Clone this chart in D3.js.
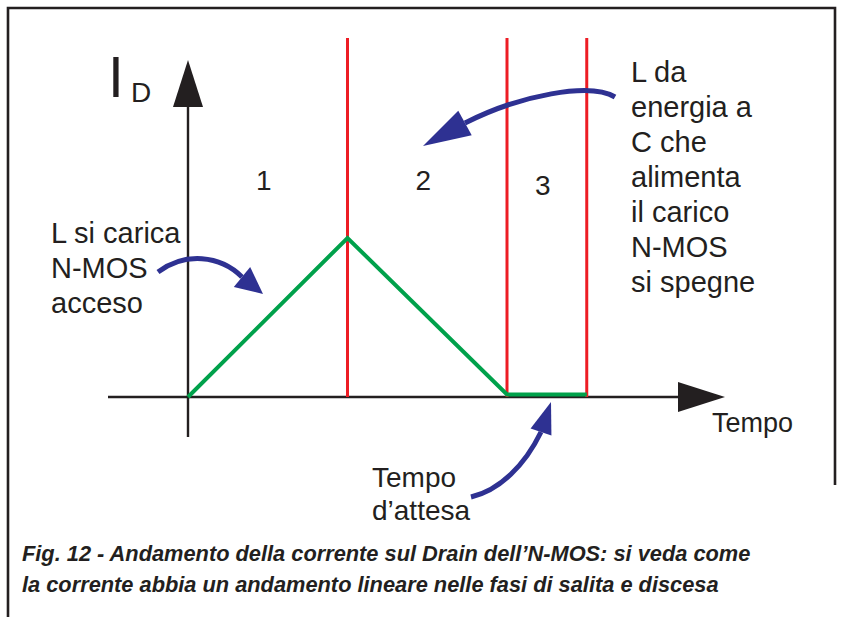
<!DOCTYPE html>
<html><head><meta charset="utf-8">
<script src="https://cdn.jsdelivr.net/npm/d3@7"></script>
<style>html,body{margin:0;padding:0;background:#fff;}svg{display:block;}</style>
</head><body>
<script>
// ---- data ----
const timePoints = [0, 1, 2, 2.5];          // time (phase units)
const drainCurrent = [0, 1, 0, 0];           // I_D (normalised)
const phaseBoundaries = [1, 2, 2.5];
const phaseLabels = ["1", "2", "3"];
const axisLabelY = ["I", "D"];
const axisLabelX = "Tempo";
const noteLeft = ["L si carica", "N-MOS", "acceso"];
const noteRight = ["L da", "energia a", "C che", "alimenta", "il carico", "N-MOS", "si spegne"];
const noteBottom = ["Tempo", "d\u2019attesa"];
const caption = ["Fig. 12 - Andamento della corrente sul Drain dell\u2019N-MOS: si veda come",
                 "la corrente abbia un andamento lineare nelle fasi di salita e discesa"];

const W = 843, H = 617;
const svg = d3.select("body").append("svg").attr("width", W).attr("height", H);
const ink = "#231f20", red = "#ed1c24", green = "#00a14b", blue = "#2e3192";
const font = "'Liberation Sans', Arial, Helvetica, sans-serif";

// scales: origin at (188,397), 1 unit ≈ 159.5px
const x = d3.scaleLinear().domain([0, 1]).range([188, 347.5]);
const y = d3.scaleLinear().domain([0, 1]).range([397, 238]);

// frame
svg.append("path").attr("d", `M8,617 V8 H835 V485`)
  .attr("fill", "none").attr("stroke", ink).attr("stroke-width", 2.6);

// axes (lines)
const xMinT = x.invert(108), xMaxT = x.invert(680);
const yMinV = y.invert(437), yMaxV = y.invert(105);
svg.append("line").attr("x1", x(xMinT)).attr("x2", x(xMaxT)).attr("y1", y(0)).attr("y2", y(0))
  .attr("stroke", ink).attr("stroke-width", 2.4);
svg.append("line").attr("x1", x(0)).attr("x2", x(0)).attr("y1", y(yMinV)).attr("y2", y(yMaxV))
  .attr("stroke", ink).attr("stroke-width", 2.4);
// arrowheads
const tipX = x.invert(725), tipY = y.invert(60);
svg.append("path").attr("fill", ink)
  .attr("d", `M${x(tipX)},${y(0)} L${x(tipX) - 47},${y(0) - 15} L${x(tipX) - 47},${y(0) + 15} Z`);
svg.append("path").attr("fill", ink)
  .attr("d", `M${x(0)},${y(tipY)} L${x(0) - 15},${y(tipY) + 47} L${x(0) + 15},${y(tipY) + 47} Z`);

// phase boundaries (red)
const topV = y.invert(38);
svg.selectAll("line.phase").data(phaseBoundaries).enter().append("line")
  .attr("class", "phase")
  .attr("x1", d => x(d)).attr("x2", d => x(d))
  .attr("y1", y(topV)).attr("y2", y(0))
  .attr("stroke", red).attr("stroke-width", 3);

// current waveform (green)
const pts = timePoints.map((t, i) => [t, drainCurrent[i]]);
svg.append("path").datum(pts)
  .attr("d", d3.line().x(d => x(d[0])).y(d => y(d[1]) - (d[1] === 0 && d[0] > 0 ? 2.5 : 0)))
  .attr("fill", "none").attr("stroke", green).attr("stroke-width", 4).attr("stroke-linejoin", "miter");

// phase numbers
const phaseStarts = [0].concat(phaseBoundaries.slice(0, -1));
svg.selectAll("text.pl").data(phaseLabels).enter().append("text")
  .attr("class", "pl")
  .attr("x", (d, i) => x((phaseStarts[i] + phaseBoundaries[i]) / 2) - 4)
  .attr("y", (d, i) => i === 2 ? 195 : 190)
  .attr("text-anchor", "middle").attr("font-family", font).attr("font-size", 28).attr("fill", ink)
  .text(d => d);

// axis labels
svg.append("text").attr("x", 108).attr("y", 97).attr("font-family", font).attr("font-size", 57)
  .attr("fill", ink).text(axisLabelY[0]);
svg.append("text").attr("x", 131).attr("y", 102).attr("font-family", font).attr("font-size", 28)
  .attr("fill", ink).text(axisLabelY[1]);
svg.append("text").attr("x", 712).attr("y", 432).attr("font-family", font).attr("font-size", 27)
  .attr("fill", ink).text(axisLabelX);

function block(lines, x0, y0, dy, fs) {
  svg.append("g").selectAll("text").data(lines).enter().append("text")
    .attr("x", x0).attr("y", (d, i) => y0 + i * dy)
    .attr("font-family", font).attr("font-size", fs).attr("fill", ink)
    .text(d => d);
}
block(noteLeft, 51, 243, 35, 29);
block(noteRight, 631, 82, 35, 29);
block(noteBottom, 372, 487, 33, 28);

// caption
svg.append("g").selectAll("text").data(caption).enter().append("text")
  .attr("x", 22).attr("y", (d, i) => 561 + i * 31)
  .attr("font-family", font).attr("font-size", 21.8).attr("font-weight", "bold").attr("font-style", "italic")
  .attr("fill", ink).text(d => d);

// annotation arrows (blue)
function px(p) { return [x(x.invert(p[0])), y(y.invert(p[1]))]; }
const arrows = [
  { c: [[158, 272], [185, 252], [220, 255], [242, 277]], tip: [263, 294], hw: 13 },
  { c: [[615, 97], [590, 82], [520, 95], [465, 123]], tip: [423, 146], hw: 14 },
  { c: [[471, 497], [500, 490], [525, 465], [541, 432]], tip: [551, 402], hw: 11 }
];
arrows.forEach(a => {
  const c = a.c.map(px), tip = px(a.tip);
  svg.append("path")
    .attr("d", `M${c[0]} C${c[1]} ${c[2]} ${c[3]}`)
    .attr("fill", "none").attr("stroke", blue).attr("stroke-width", 5);
  const b = c[3], dx = tip[0] - b[0], dy = tip[1] - b[1], L = Math.hypot(dx, dy);
  const nx = -dy / L * a.hw, ny = dx / L * a.hw;
  svg.append("path").attr("fill", blue)
    .attr("d", `M${tip} L${b[0] + nx},${b[1] + ny} L${b[0] - nx},${b[1] - ny} Z`);
});
</script>
</body></html>
